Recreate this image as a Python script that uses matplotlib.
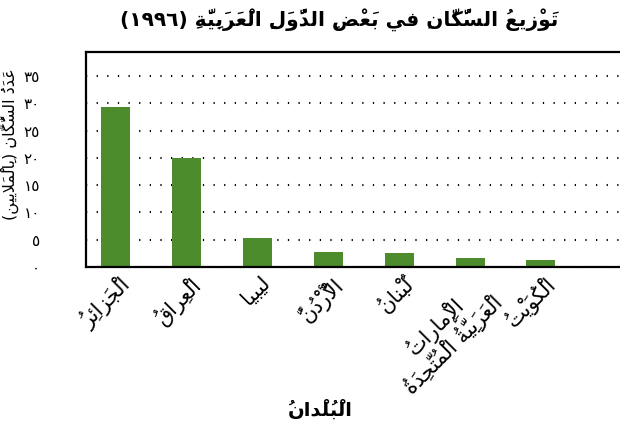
import matplotlib
matplotlib.use("Agg")
import matplotlib.pyplot as plt
from matplotlib.transforms import ScaledTranslation

# values (millions, 1996)
countries = ["الْجَزائِرُ", "الْعِراقُ", "ليبيا", "الْأُرْدُنُّ", "لُبْنانُ",
             "الْإِماراتُ\nالْعَرَبِيَّةُ الْمُتَّحِدَةُ", "الْكُوَيْتُ"]
population = [29.3, 20.0, 5.4, 2.7, 2.6, 1.6, 1.2]
yticks = [0, 5, 10, 15, 20, 25, 30, 35]
ytick_labels = ["٠", "٥", "١٠", "١٥", "٢٠", "٢٥", "٣٠", "٣٥"]

title_text = "تَوْزيعُ السُّكّانِ في بَعْضِ الدُّوَلِ الْعَرَبِيَّةِ"
title_year = "(١٩٩٦)"
ylabel_text = "عَدَدُ السُّكّانِ (بِالْمَلايين)"
xlabel_text = "الْبُلْدانُ"

# matplotlib has no arabic shaping, so do a small one by hand
HARAKAT = set("\u064B\u064C\u064D\u064E\u064F\u0650\u0651\u0652")
DUAL = {"ئ": 0xFE89, "ب": 0xFE8F, "ت": 0xFE95, "ث": 0xFE99, "ج": 0xFE9D, "ح": 0xFEA1,
        "خ": 0xFEA5, "س": 0xFEB1, "ش": 0xFEB5, "ص": 0xFEB9, "ض": 0xFEBD, "ط": 0xFEC1,
        "ظ": 0xFEC5, "ع": 0xFEC9, "غ": 0xFECD, "ف": 0xFED1, "ق": 0xFED5, "ك": 0xFED9,
        "ل": 0xFEDD, "م": 0xFEE1, "ن": 0xFEE5, "ه": 0xFEE9, "ي": 0xFEF1}
RIGHT = {"آ": 0xFE81, "أ": 0xFE83, "ؤ": 0xFE85, "إ": 0xFE87, "ا": 0xFE8D, "ة": 0xFE93,
         "د": 0xFEA9, "ذ": 0xFEAB, "ر": 0xFEAD, "ز": 0xFEAF, "و": 0xFEED, "ى": 0xFEEF}
LAMALEF = {"آ": 0xFEF5, "أ": 0xFEF7, "إ": 0xFEF9, "ا": 0xFEFB}
MIRROR = {"(": ")", ")": "("}


def shape_line(text):
    clusters = []
    for ch in text:
        if ch in HARAKAT and clusters:
            clusters[-1][1] += ch
        else:
            clusters.append([ch, ""])
    merged = []
    i = 0
    while i < len(clusters):
        b, m = clusters[i]
        if b == "ل" and i + 1 < len(clusters) and clusters[i + 1][0] in LAMALEF:
            merged.append(["LA" + clusters[i + 1][0], m + clusters[i + 1][1]])
            i += 2
        else:
            merged.append([b, m])
            i += 1

    def joins_left(b):
        return b in DUAL

    def joins_right(b):
        return b in DUAL or b in RIGHT or b.startswith("LA")

    out = []
    for i, (b, m) in enumerate(merged):
        prev = merged[i - 1][0] if i > 0 else None
        nxt = merged[i + 1][0] if i + 1 < len(merged) else None
        jp = prev is not None and joins_left(prev) and joins_right(b)
        jn = nxt is not None and joins_left(b) and joins_right(nxt)
        if b.startswith("LA"):
            g = chr(LAMALEF[b[2]] + (1 if jp else 0))
        elif b in DUAL:
            g = chr(DUAL[b] + (3 if jp and jn else 2 if jn else 1 if jp else 0))
        elif b in RIGHT:
            g = chr(RIGHT[b] + (1 if jp else 0))
        else:
            g = MIRROR.get(b, b)
        # the marks draw over the glyph that follows them
        out.append(m + g)
    return "".join(reversed(out))


def shape(text):
    return "\n".join(shape_line(t) for t in text.split("\n"))


plt.rcParams["font.family"] = ["DejaVu Sans"]

fig = plt.figure(figsize=(6.2, 4.37), dpi=100)
ax = fig.add_axes([86 / 620, 170 / 437, 540 / 620, 215.5 / 437])

x = range(len(countries))
ax.bar(x, population, width=0.41, color="#4c8c2c", zorder=2)

ax.set_xlim(-0.42, 7.2)
ax.set_ylim(0, 39.5)
ax.set_yticks(yticks, ytick_labels, fontsize=11)
ax.tick_params(axis="y", length=0, pad=33)
ax.tick_params(axis="x", length=0, pad=4)
ax.grid(axis="y", color="black", linestyle=(0, (0.6, 4.5)), linewidth=1.5, zorder=1)

ax.set_xticks(list(x), [shape(c) for c in countries], rotation=45, ha="right",
              rotation_mode="anchor", fontsize=15, multialignment="center",
              linespacing=1.1)
for lab in ax.get_xticklabels():
    lab.set_transform(lab.get_transform() + ScaledTranslation(2 / 72, 0, fig.dpi_scale_trans))

for side in ["left", "top", "bottom"]:
    ax.spines[side].set_linewidth(1.6)
ax.spines["right"].set_visible(False)

fig.text(339 / 620, 1 - 20 / 437, title_year + " " + shape(title_text),
         ha="center", va="center", fontsize=14.5, fontweight="bold")
fig.text(10 / 620, 1 - 144 / 437, shape(ylabel_text), rotation=90,
         ha="center", va="center", fontsize=11.5)
fig.text(320 / 620, 1 - 410 / 437, shape(xlabel_text),
         ha="center", va="center", fontsize=14, fontweight="bold")

fig.savefig("out.png", dpi=100)
